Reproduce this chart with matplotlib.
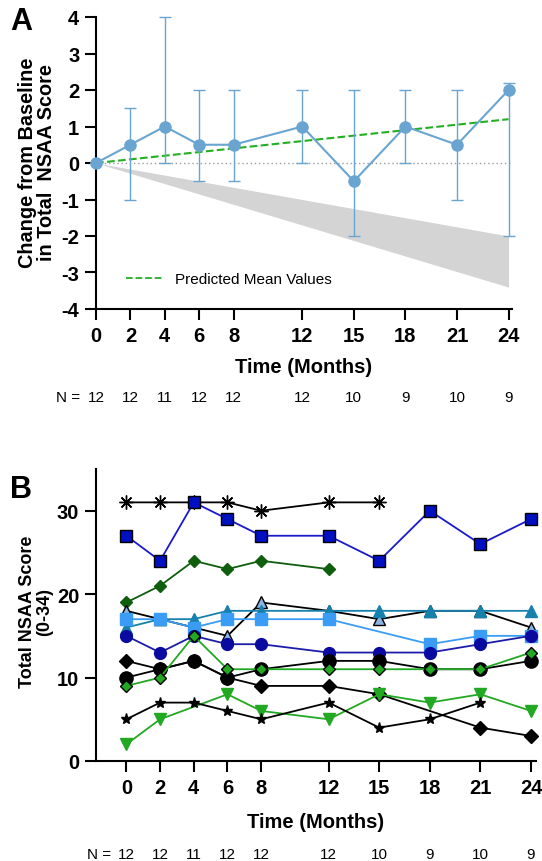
#Plot NSAA change from baseline (A) and individual totals (B)

import matplotlib
matplotlib.use("Agg")
import matplotlib.pyplot as plt
from matplotlib.lines import Line2D
from matplotlib.transforms import blended_transform_factory
import numpy as np

plt.rcParams['font.family'] = ['Liberation Sans', 'DejaVu Sans']
plt.rcParams['axes.unicode_minus'] = False

# ---- data ----
months = [0, 2, 4, 6, 8, 12, 15, 18, 21, 24]
n_counts = [12, 12, 11, 12, 12, 12, 10, 9, 10, 9]

# panel A: median change from baseline and range
mean_change = [0, 0.5, 1, 0.5, 0.5, 1, -0.5, 1, 0.5, 2]
err_low = [0, -1, 0, -0.5, -0.5, 0, -2, 0, -1, -2]
err_high = [0, 1.5, 4, 2, 2, 2, 2, 2, 2, 2.2]
pred_months = [0, 24]
pred_values = [0, 1.2]
decline_upper = [0, -2.0]
decline_lower = [0, -3.4]

# panel B: individual patients
asterisk_x = [0, 2, 4, 6, 8, 12, 15]
asterisk_y = [31, 31, 31, 31, 30, 31, 31]
bsquare_x = [0, 2, 4, 6, 8, 12, 15, 18, 21, 24]
bsquare_y = [27, 24, 31, 29, 27, 27, 24, 30, 26, 29]
dgdiam_x = [0, 2, 4, 6, 8, 12]
dgdiam_y = [19, 21, 24, 23, 24, 23]
lbtri_x = [0, 2, 4, 6, 8, 12, 15, 18, 21, 24]
lbtri_y = [18, 17, 16, 15, 19, 18, 17, 18, 18, 16]
teal_x = [0, 2, 4, 6, 8, 12, 15, 18, 21, 24]
teal_y = [16, 17, 17, 18, 18, 18, 18, 18, 18, 18]
lbsq_x = [0, 2, 4, 6, 8, 12, 18, 21, 24]
lbsq_y = [17, 17, 16, 17, 17, 17, 14, 15, 15]
navy_x = [0, 2, 4, 6, 8, 12, 15, 18, 21, 24]
navy_y = [15, 13, 15, 14, 14, 13, 13, 13, 14, 15]
bdiam_x = [0, 2, 4, 6, 8, 12, 15, 21, 24]
bdiam_y = [12, 11, 12, 10, 9, 9, 8, 4, 3]
bcirc_x = [0, 2, 4, 6, 8, 12, 15, 18, 21, 24]
bcirc_y = [10, 11, 12, 10, 11, 12, 12, 11, 11, 12]
gdiam_x = [0, 2, 4, 6, 8, 12, 15, 18, 21, 24]
gdiam_y = [9, 10, 15, 11, 11, 11, 11, 11, 11, 13]
gtri_x = [0, 2, 6, 8, 12, 15, 18, 21, 24]
gtri_y = [2, 5, 8, 6, 5, 8, 7, 8, 6]
star_x = [0, 2, 4, 6, 8, 12, 15, 18, 21]
star_y = [5, 7, 7, 6, 5, 7, 4, 5, 7]

W, H = 542, 862
fig = plt.figure(figsize=(W / 100, H / 100), dpi=100)

def style_axes(ax):
    for s in ['top', 'right']:
        ax.spines[s].set_visible(False)
    for s in ['left', 'bottom']:
        ax.spines[s].set_linewidth(1.5)
    ax.tick_params(width=1.5, length=8, labelsize=14.5, pad=4)
    ax.set_xticks(months)
    for lab in ax.get_xticklabels() + ax.get_yticklabels():
        lab.set_fontweight('bold')

def n_row(ax, yfrac):
    tr = blended_transform_factory(ax.transData, ax.transAxes)
    for m, n in zip(months, n_counts):
        ax.text(m, yfrac, str(n), transform=tr, ha='center', va='center', fontsize=11)
    ax.text(-0.9, yfrac, 'N =', transform=tr, ha='right', va='center', fontsize=11)

# ---- Panel A ----
axA = fig.add_axes([96 / W, 1 - 310 / H, (512 - 96) / W, 292 / H])
blue = '#69a5d0'
axA.fill_between(pred_months, decline_upper, decline_lower, color='#d4d4d4', lw=0, zorder=1)
axA.axhline(0, color='#999999', ls=(0, (1, 2)), lw=1, zorder=1)
axA.plot(pred_months, pred_values, color='#22b022', ls='--', lw=1.5, zorder=2)
yerr = [np.array(mean_change) - np.array(err_low), np.array(err_high) - np.array(mean_change)]
axA.errorbar(months, mean_change, yerr=yerr, color=blue, marker='o', ms=8,
             lw=1.5, elinewidth=1, capsize=4, capthick=1, zorder=3, clip_on=False)
axA.set_xlim(0, 24.2)
axA.set_ylim(-4, 4)
axA.set_yticks(range(-4, 5))
style_axes(axA)
axA.set_xlabel('Time (Months)', fontsize=14.5, fontweight='bold', labelpad=9)
leg = [Line2D([0], [0], color='#22b022', ls='--', lw=1.3)]
axA.legend(leg, ['Predicted Mean Values'], loc='lower left', bbox_to_anchor=(0.04, 0.03),
           frameon=False, fontsize=11, handlelength=2.4)
n_row(axA, -0.30)
fig.text(37 / W, 1 - 163 / H, 'Change from Baseline\nin Total  NSAA Score', rotation=90,
         ha='center', va='center', fontsize=14.3, fontweight='bold', linespacing=1.05)
fig.text(10 / W, 1 - 22 / H, 'A', fontsize=22, fontweight='bold', va='center')

# ---- Panel B ----
axB = fig.add_axes([96 / W, 1 - 762 / H, (536 - 96) / W, 292 / H])
series = [
    (asterisk_x, asterisk_y, dict(color='black', marker=(8, 2, 0), ms=10, mec='black', mew=1)),
    (bsquare_x, bsquare_y, dict(color='#1a1acc', marker='s', ms=9, mfc='#0010c0', mec='black', mew=1)),
    (dgdiam_x, dgdiam_y, dict(color='#0e5e0e', marker='D', ms=6, mfc='#0e5e0e', mec='#0e5e0e')),
    (lbtri_x, lbtri_y, dict(color='black', marker='^', ms=9, mfc='#8ab4e4', mec='black', mew=1)),
    (teal_x, teal_y, dict(color='#1681ad', marker='^', ms=9, mfc='#1681ad', mec='#1681ad')),
    (lbsq_x, lbsq_y, dict(color='#3a9cf5', marker='s', ms=8, mfc='#3a9cf5', mec='#3a9cf5')),
    (navy_x, navy_y, dict(color='#1c1caa', marker='o', ms=8.5, mfc='#0a0aa0', mec='#0a0aa0')),
    (bdiam_x, bdiam_y, dict(color='black', marker='D', ms=7, mfc='black', mec='black')),
    (bcirc_x, bcirc_y, dict(color='black', marker='o', ms=9.5, mfc='black', mec='black')),
    (gdiam_x, gdiam_y, dict(color='#22a822', marker='D', ms=6, mfc='#22a822', mec='black', mew=1)),
    (gtri_x, gtri_y, dict(color='#22a822', marker='v', ms=9, mfc='#22a822', mec='#22a822')),
    (star_x, star_y, dict(color='black', marker='*', ms=8, mfc='black', mec='black')),
]
for xs, ys, kw in series:
    axB.plot(xs, ys, lw=1.3, clip_on=False, **kw)
axB.set_xlim(-1.8, 24.3)
axB.set_ylim(0, 35)
axB.set_yticks([0, 10, 20, 30])
style_axes(axB)
axB.set_xlabel('Time (Months)', fontsize=14.5, fontweight='bold', labelpad=11)
n_row(axB, -0.318)
fig.text(36 / W, 1 - 612 / H, 'Total NSAA Score\n(0-34)', rotation=90,
         ha='center', va='center', fontsize=13, fontweight='bold', linespacing=1.05)
fig.text(10 / W, 1 - 490 / H, 'B', fontsize=22, fontweight='bold', va='center')

fig.savefig('out.png', dpi=100)
